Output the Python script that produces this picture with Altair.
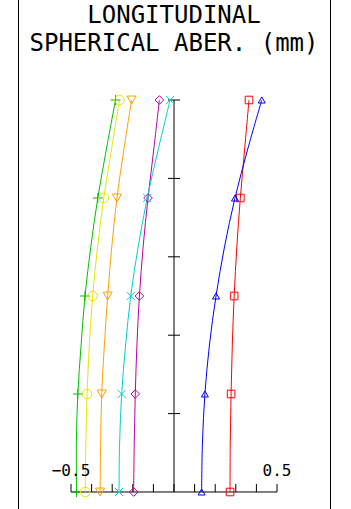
import altair as alt
import pandas as pd

# relative pupil height levels (fraction of full aperture)
F = [0.0, 0.125, 0.25, 0.375, 0.5, 0.625, 0.75, 0.875, 1.0]
MARK_F = [0.0, 0.25, 0.5, 0.75, 1.0]

SERIES = ["g", "y", "o", "m", "c", "r", "b"]
COLORS = ["#00c000", "#e6e600", "#ffa000", "#c000a0", "#00d0d0", "#ff0000", "#0000ff"]
SHAPES = ["M-1,0L1,0M0,-1L0,1", "circle", "triangle-down", "diamond",
          "M-1,-1L1,1M-1,1L1,-1", "square", "triangle-up"]
SIZES = [100, 49, 70, 64, 81, 64, 100]

# longitudinal aberration (mm) at each level of F
G = [-0.473, -0.474, -0.467, -0.451, -0.432, -0.404, -0.370, -0.328, -0.284]
Y = [-0.431, -0.428, -0.422, -0.411, -0.395, -0.371, -0.341, -0.303, -0.265]
O = [-0.359, -0.356, -0.351, -0.338, -0.322, -0.302, -0.277, -0.243, -0.206]
M = [-0.196, -0.193, -0.188, -0.180, -0.168, -0.150, -0.126, -0.098, -0.071]
C = [-0.267, -0.264, -0.254, -0.235, -0.210, -0.174, -0.130, -0.076, -0.019]
R = [0.272, 0.273, 0.277, 0.283, 0.292, 0.305, 0.322, 0.343, 0.364]
B = [0.134, 0.138, 0.150, 0.172, 0.204, 0.245, 0.296, 0.358, 0.426]
VALUES = [G, Y, O, M, C, R, B]

X_TICKS = [-0.5, -0.4, -0.3, -0.2, -0.1, 0.0, 0.1, 0.2, 0.3, 0.4, 0.5]
Y_TICKS = [0.2, 0.4, 0.6, 0.8, 1.0]
X_LABELS = [-0.5, 0.5]
X_LABEL_TEXT = ["\u22120.5", "0.5"]
TITLE1 = "LONGITUDINAL"
TITLE2 = "SPHERICAL ABER. (mm)"

rows = []
for s, vals in zip(SERIES, VALUES):
    for f, v in zip(F, vals):
        rows.append({"s": s, "f": f, "v": v})
df = pd.DataFrame(rows)
dm = df[df["f"].isin(MARK_F)]

xs = alt.Scale(domain=[-0.8447, 0.8592], nice=False, zero=False)
ys = alt.Scale(domain=[-0.04337, 1.2551], nice=False, zero=False)
col = alt.Color("s:N", scale=alt.Scale(domain=SERIES, range=COLORS), legend=None)

X = lambda f: alt.X(f, scale=xs, axis=None)
Yq = lambda f: alt.Y(f, scale=ys, axis=None)

lines = alt.Chart(df).mark_line(strokeWidth=1, interpolate="catmull-rom").encode(
    x=X("v:Q"), y=Yq("f:Q"), color=col, order="f:Q", detail="s:N")

points = alt.Chart(dm).mark_point(filled=False, strokeWidth=1, opacity=1).encode(
    x=X("v:Q"), y=Yq("f:Q"), color=col,
    shape=alt.Shape("s:N", scale=alt.Scale(domain=SERIES, range=SHAPES), legend=None),
    size=alt.Size("s:N", scale=alt.Scale(domain=SERIES, range=SIZES), legend=None))

ax = pd.DataFrame({"x0": [X_TICKS[0], 0.0], "x1": [X_TICKS[-1], 0.0],
                   "y0": [0.0, 0.0], "y1": [0.0, Y_TICKS[-1]]})
axes = alt.Chart(ax).mark_rule(color="black", strokeWidth=1).encode(
    x=X("x0:Q"), x2="x1:Q", y=Yq("y0:Q"), y2="y1:Q")

xt = alt.Chart(pd.DataFrame({"v": X_TICKS, "f": [0.0] * len(X_TICKS)})).mark_tick(
    orient="vertical", size=8, thickness=1, yOffset=-4, color="black", opacity=1).encode(
    x=X("v:Q"), y=Yq("f:Q"))

yt = alt.Chart(pd.DataFrame({"v": [0.0] * len(Y_TICKS), "f": Y_TICKS})).mark_tick(
    orient="horizontal", size=12, thickness=1, color="black", opacity=1).encode(
    x=X("v:Q"), y=Yq("f:Q"))

xl = alt.Chart(pd.DataFrame({"v": X_LABELS, "t": X_LABEL_TEXT, "f": [0.0, 0.0]})).mark_text(
    font="DejaVu Sans Mono", fontSize=16, dy=-16, baseline="alphabetic",
    align="center", color="black").encode(x=X("v:Q"), y=Yq("f:Q"), text="t:N")

t1 = alt.Chart(pd.DataFrame({"a": [0]})).mark_text(
    font="DejaVu Sans Mono", fontSize=24, baseline="alphabetic", align="center",
    color="black").encode(x=alt.value(174), y=alt.value(23), text=alt.value(TITLE1))
t2 = alt.Chart(pd.DataFrame({"a": [0]})).mark_text(
    font="DejaVu Sans Mono", fontSize=24, baseline="alphabetic", align="center",
    color="black").encode(x=alt.value(174), y=alt.value(51), text=alt.value(TITLE2))

border = alt.Chart(pd.DataFrame({"px": [18.5, 330.5]})).mark_rule(
    color="black", strokeWidth=1).encode(
    x=alt.X("px:Q", scale=None), y=alt.value(0), y2=alt.value(509))

chart = alt.layer(border, axes, xt, yt, lines, points, xl, t1, t2).properties(
    width=351, height=509, autosize=alt.AutoSizeParams(type="none"), padding=0,
    background="white").configure_view(stroke=None)

chart.save("out.html", embed_options={"renderer": "svg", "actions": False})
